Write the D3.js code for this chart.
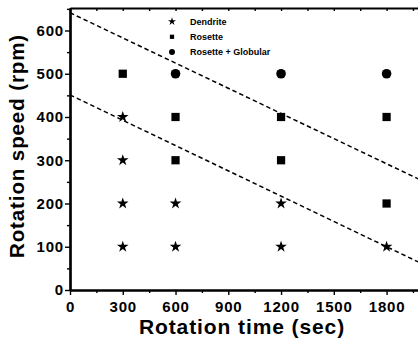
<!DOCTYPE html>
<html><head><meta charset="utf-8">
<script src="https://cdn.jsdelivr.net/npm/d3@7"></script>
<style>body{margin:0;background:#fff}svg{display:block}text{font-family:Arial,"Liberation Sans",sans-serif;font-weight:bold;fill:#000}</style>
</head><body><svg id="c" width="418" height="339"></svg>
<script>
const xTicks = [0,300,600,900,1200,1500,1800];
const yTicks = [0,100,200,300,400,500,600];
const dendrite = [[300,100],[300,200],[300,300],[300,400],[600,100],[600,200],[1200,100],[1200,200],[1800,100]];
const rosette = [[300,500],[600,300],[600,400],[1200,300],[1200,400],[1800,200],[1800,400]];
const rosetteGlob = [[600,500],[1200,500],[1800,500]];
const upperLine = [[0,641],[1990,255]];
const lowerLine = [[0,451],[1990,63]];
const legendLabels = ["Dendrite","Rosette","Rosette + Globular"];

const svg = d3.select("#c");
const L=70, R=420, T=8, B=290;
const x = d3.scaleLinear().domain([0,1990]).range([L,R]);
const y = d3.scaleLinear().domain([0,652]).range([B,T]);

const xa = svg.append("g").attr("transform",`translate(0,${B})`)
  .call(d3.axisBottom(x).tickValues(xTicks).tickSize(5).tickSizeOuter(0).tickFormat(d3.format("d")));
const ya = svg.append("g").attr("transform",`translate(${L},0)`)
  .call(d3.axisLeft(y).tickValues(yTicks).tickSize(5).tickSizeOuter(0).tickFormat(d3.format("d")));
svg.append("g").attr("transform",`translate(0,${B})`)
  .call(d3.axisBottom(x).tickValues(d3.range(150,1990,300)).tickSize(3).tickSizeOuter(0).tickFormat(""));
svg.append("g").attr("transform",`translate(${L},0)`)
  .call(d3.axisLeft(y).tickValues(d3.range(50,652,100)).tickSize(3).tickSizeOuter(0).tickFormat(""));
svg.append("g").attr("transform",`translate(0,${T})`)
  .call(d3.axisTop(x).tickValues(xTicks.concat(d3.range(150,1990,300))).tickSize(-3).tickSizeOuter(0).tickFormat(""));
svg.selectAll(".domain").attr("stroke","#000").attr("stroke-width",2.2);
svg.selectAll(".tick line").attr("stroke","#000").attr("stroke-width",1.4);
svg.selectAll(".tick text").style("font-size","15px").style("font-weight","bold").style("letter-spacing","0.8px");
xa.selectAll(".tick text").attr("dy","0.95em");
ya.selectAll(".tick text").attr("x",-6);

const line = d3.line().x(d=>x(d[0])).y(d=>y(d[1]));
[upperLine,lowerLine].forEach(l=>{
  svg.append("path").attr("d",line(l)).attr("fill","none").attr("stroke","#000")
    .attr("stroke-width",1.5).attr("stroke-dasharray","4.5,3");
});

const star = d3.symbol().type(d3.symbolStar).size(42);
const sq = d3.symbol().type(d3.symbolSquare).size(68);
const circ = d3.symbol().type(d3.symbolCircle).size(72);
svg.append("g").selectAll("path").data(dendrite).join("path")
  .attr("d",star).attr("transform",d=>`translate(${x(d[0])},${y(d[1])})`);
svg.append("g").selectAll("path").data(rosette).join("path")
  .attr("d",sq).attr("transform",d=>`translate(${x(d[0])},${y(d[1])})`);
svg.append("g").selectAll("path").data(rosetteGlob).join("path")
  .attr("d",circ).attr("transform",d=>`translate(${x(d[0])},${y(d[1])})`);

const lg = svg.append("g");
const syms = [d3.symbol().type(d3.symbolStar).size(20), d3.symbol().type(d3.symbolSquare).size(18), d3.symbol().type(d3.symbolCircle).size(28)];
legendLabels.forEach((t,i)=>{
  const yy = 21.5 + i*15.3;
  lg.append("path").attr("d",syms[i]).attr("transform",`translate(172,${yy})`);
  lg.append("text").attr("x",190).attr("y",yy+3.2).style("font-size","9px").text(t);
});

svg.append("text").attr("x",242).attr("y",334).attr("text-anchor","middle").style("font-size","21px").style("letter-spacing","0.9px").text("Rotation time (sec)");
svg.append("text").attr("transform","translate(24,146) rotate(-90)").attr("text-anchor","middle").style("font-size","20.5px").style("letter-spacing","0.9px").text("Rotation speed (rpm)");
</script></body></html>
